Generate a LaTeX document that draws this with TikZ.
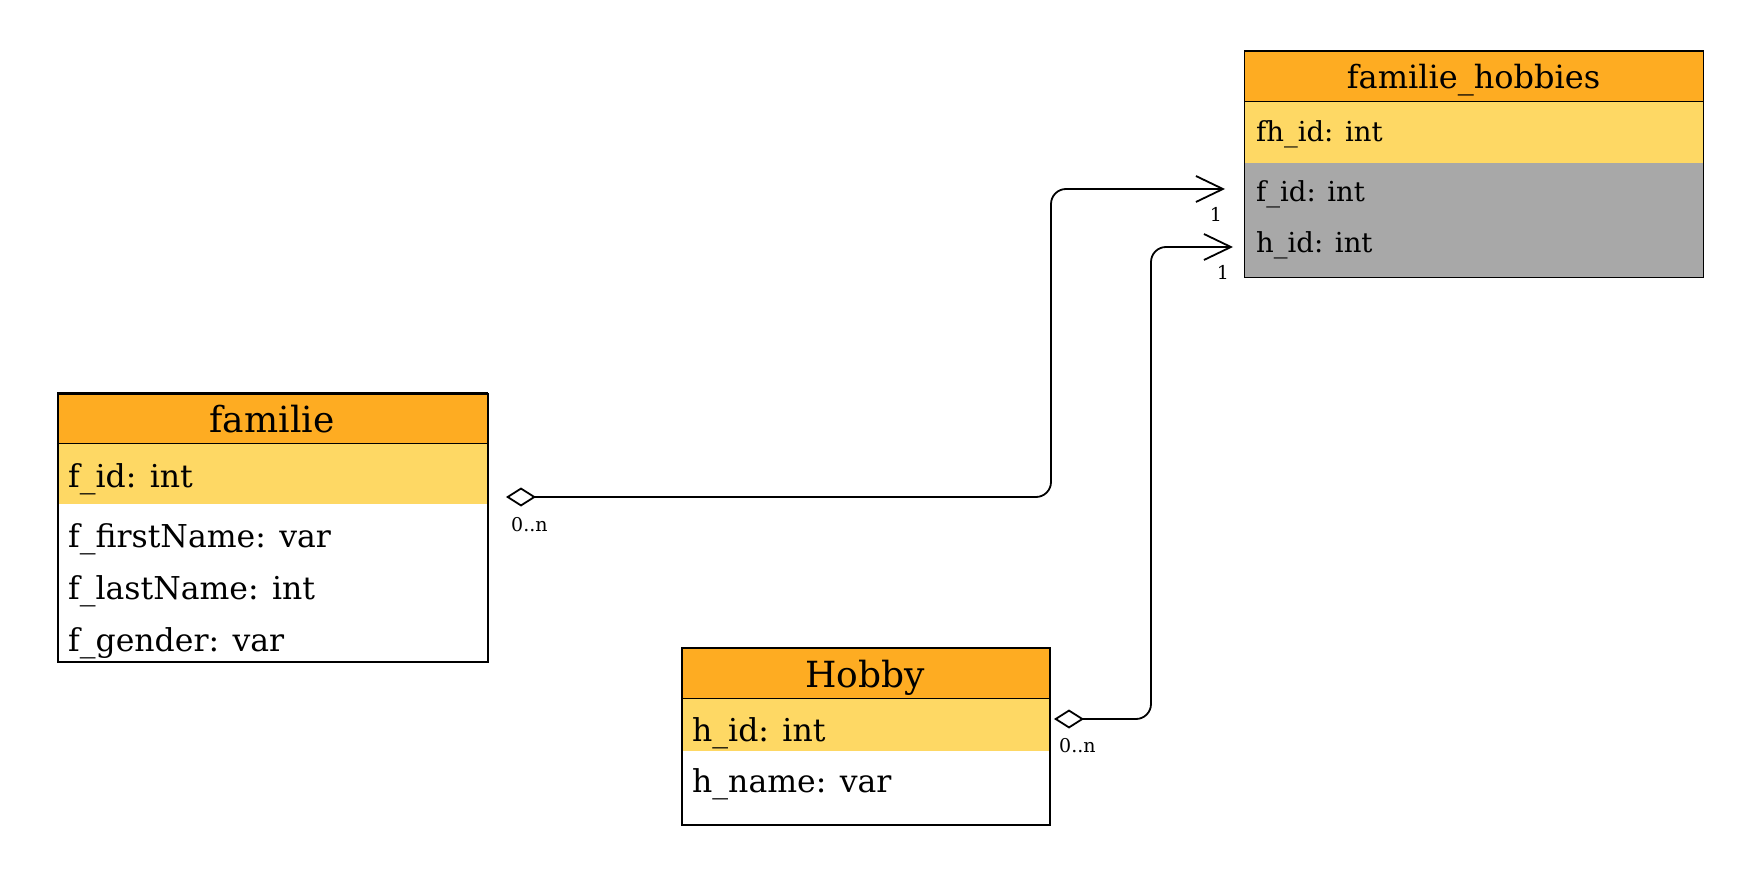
\documentclass[tikz,border=0pt]{standalone}
\usepackage{fontspec}
\setmainfont{DejaVu Serif}
\usetikzlibrary{arrows.meta}
\definecolor{hdr}{RGB}{254,172,34}
\definecolor{keyrow}{RGB}{254,216,100}
\definecolor{fkrow}{RGB}{168,168,168}
\tikzset{
  tbl/.style={draw=black, line width=1.8pt, anchor=north west, inner sep=0pt},
  hdrbox/.style={fill=hdr, draw=black, line width=1pt},
  rowtxt/.style={anchor=base west, inner sep=0pt},
  hdrtxt/.style={anchor=base, inner sep=0pt},
  mult/.style={inner sep=0pt, font=\fontsize{19}{22}\selectfont},
  conn/.style={line width=1.8pt, rounded corners=15pt,
    {Diamond[open, length=30pt, width=19pt, line width=1.8pt]}-{Straight Barb[length=27pt, width=26pt, line width=1.8pt]}},
}
\begin{document}
\begin{tikzpicture}[x=1pt,y=-1pt]
\useasboundingbox (0,0) rectangle (1754,882);
% ---------- familie_hobbies
\fill[keyrow] (1244,102) rectangle (1703,163);
\fill[fkrow] (1244,163) rectangle (1703,277);
\draw[hdrbox] (1244,51) rectangle (1703,102);
\node[tbl, line width=1.3pt, minimum width=459pt, minimum height=226pt] (fh) at (1244,51) {};
\node[hdrtxt, font=\fontsize{32}{38}\selectfont] (fhh) at (1473.5,89) {familie\_hobbies};
\node[rowtxt, font=\fontsize{27.5}{33}\selectfont] (fh1) at (1256,142) {fh\_id: int};
\node[rowtxt, font=\fontsize{27.5}{33}\selectfont] (fh2) at (1256,202) {f\_id: int};
\node[rowtxt, font=\fontsize{27.5}{33}\selectfont] (fh3) at (1256,253) {h\_id: int};
% ---------- familie
\fill[keyrow] (57,444) rectangle (487,504);
\draw[hdrbox] (57,393) rectangle (487,444);
\node[tbl, minimum width=430pt, minimum height=268pt] (fam) at (57,393) {};
\node[hdrtxt, font=\fontsize{36}{42}\selectfont] (famh) at (272,433) {familie};
\node[rowtxt, font=\fontsize{31.5}{38}\selectfont] (fam1) at (68,487) {f\_id: int};
\node[rowtxt, font=\fontsize{31.5}{38}\selectfont] (fam2) at (68,547) {f\_firstName: var};
\node[rowtxt, font=\fontsize{31.5}{38}\selectfont] (fam3) at (68,599) {f\_lastName: int};
\node[rowtxt, font=\fontsize{31.5}{38}\selectfont] (fam4) at (68,651) {f\_gender: var};
% ---------- Hobby
\fill[keyrow] (681,698) rectangle (1049,751);
\draw[hdrbox] (681,647) rectangle (1049,698);
\node[tbl, minimum width=368pt, minimum height=177pt] (hob) at (681,647) {};
\node[hdrtxt, font=\fontsize{36}{42}\selectfont] (hobh) at (865,687) {Hobby};
\node[rowtxt, font=\fontsize{31.5}{38}\selectfont] (hob1) at (692,741) {h\_id: int};
\node[rowtxt, font=\fontsize{31.5}{38}\selectfont] (hob2) at (692,792) {h\_name: var};
% ---------- connectors
\coordinate (famEnd) at (506,497);
\coordinate (fhFid) at (1225,189);
\coordinate (hobEnd) at (1054,719);
\coordinate (fhHid) at (1233,247);
\draw[conn] (famEnd) -- (famEnd -| 1051,0) -- (fhFid -| 1051,0) -- (fhFid);
\draw[conn] (hobEnd) -- (hobEnd -| 1151,0) -- (fhHid -| 1151,0) -- (fhHid);
\node[mult, anchor=base west] (m1) at (511,531) {0..n};
\node[mult, anchor=base] (m2) at (1216,222) {1};
\node[mult, anchor=base west] (m3) at (1059,752) {0..n};
\node[mult, anchor=base] (m4) at (1223,280) {1};
\end{tikzpicture}
\end{document}
